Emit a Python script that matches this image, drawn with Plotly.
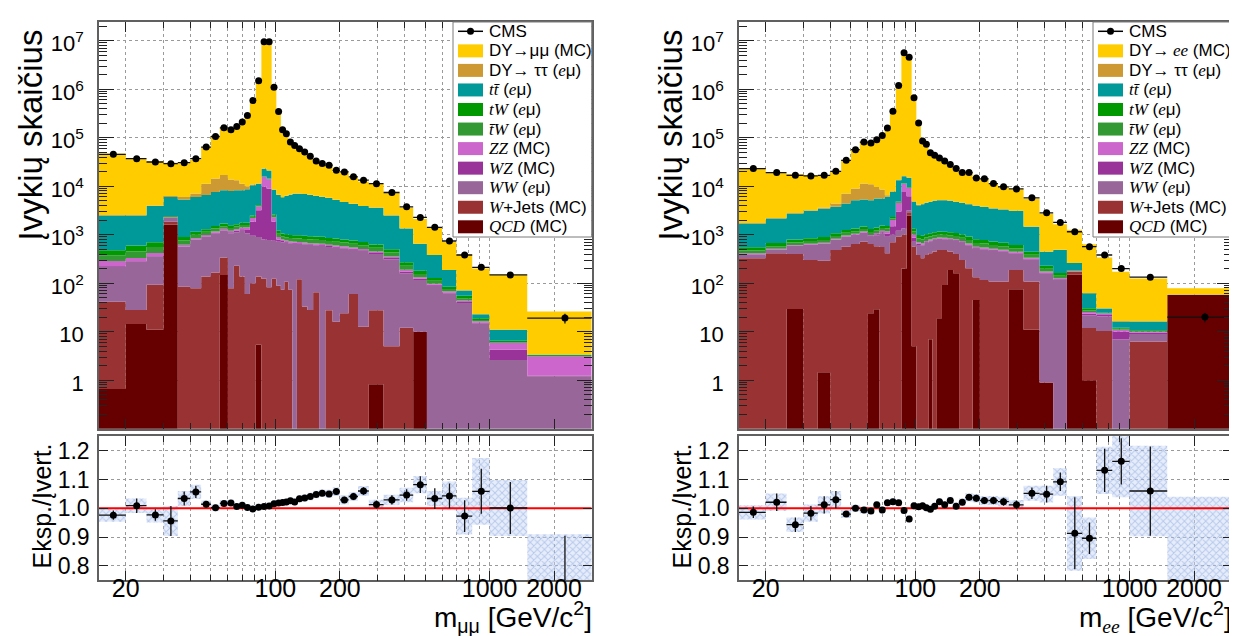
import math
import numpy as np
import plotly.graph_objects as go

W, H = 1237, 636
FONT = "Liberation Sans, Arial, Helvetica, sans-serif"

# ---------------- binning (GeV/c^2) ----------------
edges = [15, 20, 25, 30, 35, 40, 45, 50, 55, 60, 64, 68, 72, 76, 81, 86, 91, 96, 101, 106, 110,
         115, 120, 126, 133, 141, 150, 160, 171, 185, 200, 220, 243, 273, 320, 380, 440, 510,
         600, 700, 830, 1000, 1500, 3000]

# ---------------- mu mu channel ----------------
mm_data = [45500, 37000, 31600, 29200, 30600, 37000, 64200, 106000, 160000, 146000, 171000,
           210000, 288000, 585000, 1500000, 9500000, 9500000, 1100000, 348000, 146000, 121000,
           81500, 69500, 59400, 50800, 41300, 33200, 29300, 27100, 21300, 19700, 15600, 13300,
           11300, 7420, 3760, 2270, 1420, 741, 382, 213, 148, 19.1]
mm_data_err = [213, 192, 178, 171, 175, 192, 253, 326, 400, 382, 414, 458, 537, 765, 1225, 3082,
               3082, 1049, 590, 382, 348, 285, 264, 244, 225, 203, 182, 171, 165, 146, 140, 125,
               115, 106, 86, 61, 48, 38, 27, 20, 15, 12, 4.4]
mm_qcd = [0.66, 14.5, 11, 1600, 0, 0, 0, 0, 148, 0, 0, 0, 0, 0, 5.4, 0, 0, 0, 0, 0, 0, 0, 0, 0,
          0, 0, 0, 0, 0, 0, 0, 0, 0, 0.83, 0, 0, 10, 0, 0, 0, 0, 0, 0]
mm_wjets = [41, 13.5, 82, 260, 85, 79, 137, 166, 192, 79, 230, 137, 60, 100, 132, 124, 83, 124,
            89, 73, 107, 73, 0, 120, 33, 28, 65, 0, 27.6, 16, 24, 60, 12.7, 26.8, 5, 12, 0, 0,
            0, 0, 0, 0, 0]
mm_ww = [178, 252, 262, 340, 475, 701, 773, 904, 860, 991, 900, 1063, 1010, 850, 763, 676, 697,
         626, 631, 627, 573, 587, 650, 520, 597, 582, 535, 590, 532, 524, 496, 430, 447, 372,
         305, 149, 107, 89, 62, 39, 15, 2.6, 1.2]
mm_wz = [8, 8, 8, 10, 10, 15, 20, 30, 40, 50, 70, 100, 180, 910, 2300, 9000, 8220, 1110, 80, 40,
         30, 30, 30, 30, 25, 25, 25, 25, 25, 25, 25, 25, 20, 20, 20, 14, 7, 4, 2, 2, 0.5, 1.7,
         0.05]
mm_zz = [60, 42, 57, 80, 50, 55, 60, 70, 80, 80, 90, 100, 150, 340, 600, 5700, 5000, 440, 100,
         60, 50, 40, 40, 40, 35, 35, 35, 35, 35, 35, 35, 30, 30, 30, 25, 15, 8, 5, 4, 3, 1.0,
         1.6, 1.85]
mm_tbarw = [90, 120, 140, 60, 140, 150, 160, 180, 180, 180, 180, 180, 180, 150, 150, 200, 200,
            150, 150, 130, 130, 130, 130, 130, 130, 130, 130, 130, 120, 120, 110, 105, 100, 90,
            75, 40, 23, 14, 8, 5, 1, 0.2, 0]
mm_tw = [100, 150, 140, 70, 140, 150, 150, 170, 200, 180, 180, 180, 180, 150, 150, 200, 200, 150,
         150, 130, 130, 130, 130, 130, 130, 130, 130, 130, 120, 120, 110, 110, 100, 90, 70, 40,
         25, 16, 9, 6, 1.5, 0.4, 0.05]
mm_ttbar = [2020, 1900, 3200, 3580, 4400, 4850, 5300, 6080, 6600, 6440, 6650, 6540, 6940, 8000,
            7100, 7100, 6600, 5900, 5400, 4840, 5280, 5710, 6020, 6030, 5950, 5670, 5380, 5090,
            4840, 4360, 3900, 3540, 3190, 2970, 2000, 1080, 470, 252, 102, 16, 4, 4.5, 0.15]
mm_dytautau = [50, 60, 100, 300, 700, 1100, 4600, 6900, 8700, 5800, 5000, 2900, 1300, 300, 200,
               200, 200, 100, 50, 50, 50, 50, 50, 50, 50, 50, 50, 50, 50, 50, 50, 40, 30, 20, 10,
               5, 2, 1, 1, 0.5, 0, 0, 0]
mm_dy = [44050, 34040, 28300, 24200, 23600, 27900, 52100, 91300, 140000, 129200, 156700, 196300,
         277000, 575200, 1478600, 9406800, 9388800, 1071400, 333350, 137050, 111650, 72450,
         60850, 50350, 41950, 32950, 25150, 21750, 20050, 14850, 14350, 10660, 8570, 7530, 4700,
         2235, 1448, 989, 522, 321.5, 178, 137, 22.7]
mm_ratio = [0.976, 1.009, 0.977, 0.956, 1.034, 1.057, 1.014, 1.002, 1.017, 1.018, 1.006, 1.011,
            1.003, 0.998, 1.004, 1.006, 1.008, 1.016, 1.018, 1.02, 1.022, 1.026, 1.022, 1.033,
            1.036, 1.041, 1.048, 1.052, 1.05, 1.058, 1.029, 1.041, 1.06, 1.013, 1.029, 1.046,
            1.082, 1.034, 1.043, 0.973, 1.059, 1.001, 0.74]
mm_ratio_err = [0.016, 0.025, 0.02, 0.052, 0.024, 0.021, 0.01, 0.006, 0.005, 0.005, 0.005, 0.004,
                0.003, 0.002, 0.001, 0.001, 0.001, 0.002, 0.003, 0.004, 0.004, 0.005, 0.006,
                0.006, 0.007, 0.007, 0.008, 0.009, 0.009, 0.01, 0.011, 0.012, 0.013, 0.014,
                0.016, 0.02, 0.029, 0.036, 0.043, 0.055, 0.078, 0.09, 0.165]
mm_band = [0.023, 0.025, 0.026, 0.052, 0.026, 0.025, 0.014, 0.012, 0.012, 0.012, 0.012, 0.012,
           0.012, 0.012, 0.012, 0.012, 0.012, 0.012, 0.012, 0.012, 0.012, 0.012, 0.012, 0.012,
           0.012, 0.013, 0.013, 0.013, 0.014, 0.015, 0.016, 0.016, 0.017, 0.017, 0.018, 0.025,
           0.03, 0.026, 0.05, 0.064, 0.116, 0.097, 0.17]

# ---------------- e e channel ----------------
ee_data = [23100, 19100, 16800, 16300, 16800, 20300, 34200, 56600, 81400, 77700, 91000, 111700,
           158000, 353000, 1190000, 5660000, 4550000, 664000, 200000, 85500, 73000, 49200, 43400,
           38200, 33200, 27900, 23100, 19100, 19100, 14800, 14200, 11350, 9700, 8800, 5750, 2830,
           1790, 1150, 566, 382, 200, 133, 20]
ee_data_err = [152, 138, 130, 128, 130, 142, 185, 238, 285, 279, 302, 334, 397, 594, 1091, 2379,
               2133, 815, 447, 292, 270, 222, 208, 195, 182, 167, 152, 138, 138, 122, 119, 107,
               98, 94, 76, 53, 42, 34, 24, 20, 14, 11.5, 4.5]
ee_qcd = [0, 0, 29.5, 0, 1.46, 0, 0, 0, 0, 24, 29, 0, 0, 0, 0, 200, 2500, 5, 0, 0, 0, 7, 0, 19,
          92, 188, 160, 0, 0, 45, 0, 0, 0, 75, 11, 0.9, 0, 150, 1.0, 0, 0, 0, 57]
ee_wjets = [327, 413, 370, 300, 288, 484, 566, 642, 718, 616, 551, 560, 413, 700, 910, 800, 400,
            561, 382, 327, 382, 406, 448, 465, 392, 260, 240, 300, 203, 88, 117, 108, 108, 113,
            97, 0, 0, 20, 10.9, 10.3, 0, 6.3, 0]
ee_ww = [60, 70, 185, 315, 355, 300, 350, 340, 370, 270, 400, 510, 497, 300, 300, 350, 300, 150,
         230, 270, 300, 320, 330, 330, 320, 330, 350, 380, 400, 380, 380, 360, 340, 220, 200,
         160, 117, 5, 10, 10.3, 6.9, 2.7, 0.5]
ee_wz = [8, 8, 8, 10, 10, 12, 15, 20, 25, 30, 40, 60, 150, 500, 1790, 6250, 3000, 150, 40, 30,
         25, 25, 25, 25, 25, 25, 25, 25, 25, 20, 20, 20, 18, 15, 12, 5, 4, 2, 1.5, 1.5, 3.1, 0.5,
         0]
ee_zz = [18, 20, 20, 25, 25, 30, 35, 40, 45, 50, 60, 80, 120, 500, 1500, 3700, 3000, 150, 50,
         40, 35, 35, 35, 35, 35, 35, 35, 35, 30, 30, 30, 25, 25, 20, 15, 8, 6, 3, 2, 1.5, 1,
         0.5, 0.5]
ee_tbarw = [60, 70, 80, 90, 100, 110, 130, 140, 150, 150, 150, 160, 160, 150, 150, 200, 200,
            150, 130, 130, 130, 130, 140, 140, 140, 140, 130, 130, 120, 110, 110, 100, 90, 80,
            50, 25, 15, 3, 2, 0.5, 0.5, 0.3, 0]
ee_tw = [80, 90, 100, 110, 120, 130, 150, 160, 170, 170, 170, 180, 180, 170, 170, 200, 200, 160,
         150, 150, 150, 150, 150, 150, 150, 150, 150, 140, 140, 130, 120, 110, 100, 90, 60, 30,
         20, 4, 3, 0.5, 0.5, 0.4, 0]
ee_ttbar = [1157, 1499, 1948, 2260, 2520, 2694, 3154, 3808, 3842, 3840, 4180, 4030, 4520, 5330,
            8480, 4300, 5400, 3474, 3088, 3323, 3518, 3687, 3872, 3986, 3996, 3872, 3670, 3530,
            3352, 3147, 2983, 2747, 2639, 2497, 1015, 219, 322, 73, 31.6, 5.4, 4.3, 5.6, 0.2]
ee_dytautau = [30, 40, 60, 100, 200, 640, 2700, 3850, 6030, 5850, 4100, 2970, 490, 200, 150,
               200, 200, 100, 60, 50, 50, 50, 50, 50, 50, 50, 50, 45, 40, 35, 30, 30, 25, 20,
               10, 5, 4, 2, 1, 0.5, 0.3, 0.2, 0]
ee_dy = [21660, 16490, 15000, 13390, 12980, 15300, 27800, 47600, 70550, 67400, 80220, 103850,
         148470, 337150, 1154550, 5693800, 4704800, 653100, 194870, 80380, 68310, 44490, 38050,
         32100, 27600, 22150, 18090, 14115, 14090, 10315, 10010, 7550, 6135, 5570, 4000, 2247,
         1152, 998, 569, 306.5, 155.4, 108.5, 20.8]
ee_ratio = [0.986, 1.021, 0.943, 0.983, 1.012, 1.03, 0.98, 1.0, 0.994, 0.991, 1.012, 0.994,
            1.019, 1.023, 1.019, 0.992, 0.963, 1.009, 1.005, 1.009, 1.002, 0.997, 1.007, 1.023,
            1.012, 1.027, 1.007, 1.021, 1.038, 1.035, 1.027, 1.027, 1.023, 1.012, 1.052, 1.049,
            1.092, 0.913, 0.896, 1.132, 1.163, 1.06, 0.25]
ee_ratio_err = [0.02, 0.03, 0.025, 0.025, 0.03, 0.03, 0.01, 0.008, 0.006, 0.006, 0.006, 0.005,
                0.004, 0.003, 0.002, 0.001, 0.001, 0.002, 0.003, 0.005, 0.005, 0.006, 0.007,
                0.007, 0.008, 0.009, 0.009, 0.01, 0.011, 0.012, 0.012, 0.013, 0.014, 0.015,
                0.02, 0.029, 0.032, 0.125, 0.055, 0.075, 0.08, 0.155, 0.06]
ee_band = [0.025, 0.03, 0.025, 0.03, 0.03, 0.03, 0.014, 0.012, 0.012, 0.012, 0.012, 0.012,
           0.012, 0.012, 0.012, 0.012, 0.012, 0.012, 0.012, 0.012, 0.012, 0.012, 0.012, 0.012,
           0.012, 0.013, 0.013, 0.013, 0.014, 0.015, 0.016, 0.016, 0.017, 0.017, 0.026, 0.029,
           0.048, 0.13, 0.072, 0.082, 0.125, 0.157, 0.79]

# ---------------- styling ----------------
stack_colors = ["#660000", "#993333", "#996699", "#993399", "#CC66CC", "#339933", "#009900",
                "#009999", "#CC9933", "#FFCC00"]

def px(x):
    return x / W

def py(y):
    return 1 - y / H

nb = len(edges) - 1
lo = np.array(edges[:-1], float)
hi = np.array(edges[1:], float)
ctr = (lo + hi) / 2
FLOOR = 1e-3

fig = go.Figure()


def add_stack(comps, xa, ya):
    fig.add_trace(go.Scatter(x=edges, y=[FLOOR] * (nb + 1), mode="lines",
                             line=dict(width=0, shape="hv"), xaxis=xa, yaxis=ya,
                             hoverinfo="skip", showlegend=False))
    cum = np.zeros(nb)
    for vals, col in zip(comps, stack_colors):
        cum = cum + np.array(vals, float)
        yy = np.where(cum > 0, cum, FLOOR)
        yy = list(yy) + [yy[-1]]
        fig.add_trace(go.Scatter(x=edges, y=yy, mode="lines",
                                 line=dict(width=0, shape="hv", color=col),
                                 fill="tonexty", fillcolor=col, xaxis=xa, yaxis=ya,
                                 hoverinfo="skip", showlegend=False))


def add_points(vals, errs, xa, ya):
    fig.add_trace(go.Scatter(
        x=ctr, y=vals, mode="markers", xaxis=xa, yaxis=ya, showlegend=False,
        marker=dict(color="black", size=7),
        error_x=dict(type="data", symmetric=False, array=hi - ctr, arrayminus=ctr - lo,
                     width=0, thickness=1.3, color="#111"),
        error_y=dict(type="data", array=errs, width=0, thickness=1.3, color="#111")))


def add_band(r, band, xa, ya):
    bx, by = [], []
    for i in range(nb):
        y0, y1 = r[i] - band[i], r[i] + band[i]
        bx += [lo[i], hi[i], hi[i], lo[i], lo[i], None]
        by += [y0, y0, y1, y1, y0, None]
    fig.add_trace(go.Scatter(
        x=bx, y=by, mode="lines", line=dict(width=0), fill="toself",
        fillcolor="rgba(185,205,240,0.45)",
        fillpattern=dict(shape="x", fgcolor="rgba(105,140,215,0.75)",
                         bgcolor="rgba(200,215,245,0.45)", size=5, solidity=0.35),
        xaxis=xa, yaxis=ya, hoverinfo="skip", showlegend=False))
    fig.add_trace(go.Scatter(x=[edges[0], edges[-1]], y=[1, 1], mode="lines",
                             line=dict(color="#ff0000", width=2), xaxis=xa, yaxis=ya,
                             hoverinfo="skip", showlegend=False))


mm_comps = [mm_qcd, mm_wjets, mm_ww, mm_wz, mm_zz, mm_tbarw, mm_tw, mm_ttbar, mm_dytautau, mm_dy]
ee_comps = [ee_qcd, ee_wjets, ee_ww, ee_wz, ee_zz, ee_tbarw, ee_tw, ee_ttbar, ee_dytautau, ee_dy]

add_stack(mm_comps, "x", "y")
add_points(mm_data, mm_data_err, "x", "y")
add_stack(ee_comps, "x2", "y2")
add_points(ee_data, ee_data_err, "x2", "y2")

add_band(mm_ratio, mm_band, "x3", "y3")
add_points(mm_ratio, mm_ratio_err, "x3", "y3")
add_band(ee_ratio, ee_band, "x4", "y4")
add_points(ee_ratio, ee_ratio_err, "x4", "y4")

# ---------------- axes ----------------
GRID = "#9a9a9a"
LINE = "#606060"
x_major = [20, 100, 200, 1000, 2000]
x_minor = [30, 40, 50, 60, 70, 80, 90, 300, 400, 500, 600, 700, 800, 900]

L_FRAME = (91, 583.7)
R_FRAME = (731, 1223.7)
MAIN_Y = (14, 420.7)
RAT_Y = (428.3, 572.3)


def xaxis(frame, anchor, labels):
    return dict(
        domain=[px(frame[0]), px(frame[1])], anchor=anchor, type="log",
        range=[math.log10(15), math.log10(3000)],
        showline=True, linecolor=LINE, linewidth=1.5, mirror="allticks",
        ticks="inside", ticklen=10, tickwidth=1, tickcolor="#222",
        tickmode="array", tickvals=x_major, ticktext=[str(v) for v in x_major],
        showticklabels=labels, ticklabelstandoff=-15,
        tickfont=dict(family=FONT, size=25, color="black"),
        showgrid=True, gridcolor=GRID, griddash="dot", gridwidth=1, zeroline=False,
        minor=dict(tickmode="array", tickvals=x_minor, ticks="inside", ticklen=6,
                   tickcolor="#222", showgrid=True, gridcolor=GRID, griddash="dot",
                   gridwidth=1))


y_major = [10 ** k for k in range(0, 8)]
y_text = ["1", "10"] + ["10<sup>%d</sup>" % k for k in range(2, 8)]
y_minor = [m * 10 ** e for e in range(-1, 8) for m in range(2, 10) if m * 10 ** e < 2.4e7]


def yaxis_main(anchor):
    return dict(
        domain=[py(MAIN_Y[1]), py(MAIN_Y[0])], anchor=anchor, type="log",
        range=[-1, 7.386], showline=True, linecolor=LINE, linewidth=1.5, mirror="allticks",
        ticks="inside", ticklen=15, tickwidth=1, tickcolor="#222",
        tickmode="array", tickvals=y_major, ticktext=y_text, ticklabelstandoff=9,
        ticklabelshift=3,
        tickfont=dict(family=FONT, size=22, color="black"),
        showgrid=True, gridcolor=GRID, griddash="dot", gridwidth=1, zeroline=False,
        minor=dict(tickmode="array", tickvals=y_minor, ticks="inside", ticklen=8,
                   tickcolor="#222", showgrid=False))


r_major = [0.8, 0.9, 1.0, 1.1, 1.2]


def yaxis_ratio(anchor):
    return dict(
        domain=[py(RAT_Y[1]), py(RAT_Y[0])], anchor=anchor, range=[0.75, 1.25],
        showline=True, linecolor=LINE, linewidth=1.5, mirror="allticks",
        ticks="inside", ticklen=9, tickwidth=1, tickcolor="#222",
        tickmode="array", tickvals=r_major, ticktext=["%.1f" % v for v in r_major],
        ticklabelstandoff=3, tickfont=dict(family=FONT, size=23, color="black"),
        showgrid=True, gridcolor=GRID, griddash="dot", gridwidth=1, zeroline=False)


fig.update_layout(
    width=W, height=H, autosize=False, margin=dict(l=0, r=0, t=0, b=0, pad=0),
    paper_bgcolor="white", plot_bgcolor="white", showlegend=False,
    font=dict(family=FONT, color="black"),
    xaxis=xaxis(L_FRAME, "y", False), yaxis=yaxis_main("x"),
    xaxis2=xaxis(R_FRAME, "y2", False), yaxis2=yaxis_main("x2"),
    xaxis3=xaxis(L_FRAME, "y3", True), yaxis3=yaxis_ratio("x3"),
    xaxis4=xaxis(R_FRAME, "y4", True), yaxis4=yaxis_ratio("x4"),
)

# ---------------- titles & legends ----------------
SERIF = '<span style="font-family:Liberation Serif">'


def it(s):
    return SERIF + "<i>" + s + "</i></span>"


annotations = []
shapes = []


def add_panel_text(dx, xlab, dylab):
    annotations.append(dict(text="Įvykių skaičius", x=px(22 + dx), y=py(20), xref="paper",
                            yref="paper", xanchor="center", yanchor="top", textangle=-90,
                            showarrow=False, font=dict(family=FONT, size=33, color="black")))
    annotations.append(dict(text="Eksp./Įvert.", x=px(33 + dx), y=py(498.5), xref="paper",
                            yref="paper", xanchor="center", yanchor="middle", textangle=-90,
                            showarrow=False, font=dict(family=FONT, size=25, color="black")))
    annotations.append(dict(text=xlab, x=px(586 + dx), y=py(587), xref="paper", yref="paper",
                            xanchor="right", yanchor="top", showarrow=False,
                            font=dict(family=FONT, size=28, color="black")))
    # legend box
    x0, x1, y0, y1 = 445 + dx, 583.7 + dx, 14, 229
    shapes.append(dict(type="rect", xref="paper", yref="paper", x0=px(x0), x1=px(x1),
                       y0=py(y1), y1=py(y0), fillcolor="white",
                       line=dict(color="#7a7a7a", width=1), layer="above"))
    labels = ["CMS", dylab, "DY→ ττ (" + it("e") + "μ)", it("tt̄") + " (" + it("e") + "μ)",
              it("tW") + " (" + it("e") + "μ)", it("t̄W") + " (" + it("e") + "μ)",
              it("ZZ") + " (MC)", it("WZ") + " (MC)", it("WW") + " (" + it("e") + "μ)",
              it("W") + "+Jets (MC)", it("QCD") + " (MC)"]
    cols = [None, "#FFCC00", "#CC9933", "#009999", "#009900", "#339933", "#CC66CC", "#993399",
            "#996699", "#993333", "#660000"]
    for i, (lab, col) in enumerate(zip(labels, cols)):
        yc = 23.3 + 19.55 * i
        if col is None:
            shapes.append(dict(type="line", xref="paper", yref="paper", x0=px(450 + dx),
                               x1=px(475 + dx), y0=py(yc), y1=py(yc),
                               line=dict(color="black", width=1.5), layer="above"))
            shapes.append(dict(type="circle", xref="paper", yref="paper", x0=px(459 + dx),
                               x1=px(466 + dx), y0=py(yc + 3.5), y1=py(yc - 3.5),
                               fillcolor="black", line=dict(color="black", width=0),
                               layer="above"))
        else:
            shapes.append(dict(type="rect", xref="paper", yref="paper", x0=px(450 + dx),
                               x1=px(475 + dx), y0=py(yc + 6.5), y1=py(yc - 6.5),
                               fillcolor=col, line=dict(width=0), layer="above"))
        annotations.append(dict(text=lab, x=px(479 + dx), y=py(yc), xref="paper",
                                yref="paper", xanchor="left", yanchor="middle",
                                showarrow=False,
                                font=dict(family=FONT, size=17, color="black")))


add_panel_text(0, "m<sub>μμ</sub> [GeV/c<sup>2</sup>]", "DY→μμ (MC)")
add_panel_text(640, "m<sub>" + it("ee") + "</sub> [GeV/c<sup>2</sup>]",
               "DY→\u2009" + it("ee") + " (MC)")

fig.update_layout(annotations=annotations, shapes=shapes)

fig.write_html("out.html")
